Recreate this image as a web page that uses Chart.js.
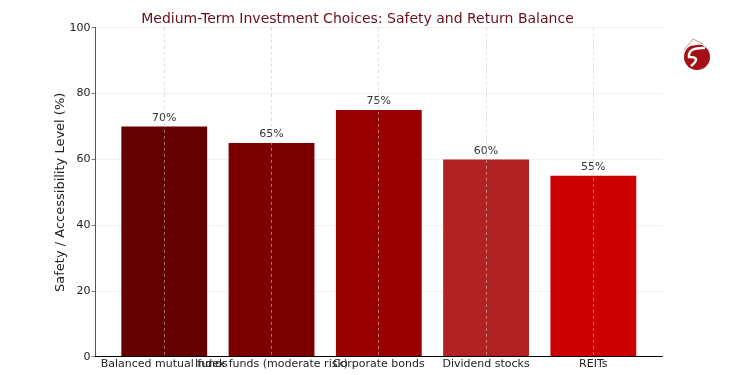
<!DOCTYPE html>
<html>
<head>
<meta charset="utf-8">
<script src="https://cdn.jsdelivr.net/npm/chart.js@4"></script>
<style>
  html, body { margin: 0; padding: 0; background: #fff; }
</style>
</head>
<body>
<canvas id="bar-chart" width="750" height="375"></canvas>
<script>
// chart data
const categories = ["Balanced mutual funds", "Index funds (moderate risk)", "Corporate bonds", "Dividend stocks", "REITs"];
const safetyLevels = [70, 65, 75, 60, 55];
const barColors = ["#640000", "#7d0000", "#990000", "#b22222", "#cc0000"];
const yTicks = [0, 20, 40, 60, 80, 100];

Chart.defaults.font.family = "'DejaVu Sans', sans-serif";
Chart.defaults.color = "#333";

// percent labels above the bars
const valueLabels = {
  id: "valueLabels",
  afterDatasetsDraw(chart) {
    const ctx = chart.ctx;
    const meta = chart.getDatasetMeta(0);
    ctx.save();
    ctx.font = "11px 'DejaVu Sans', sans-serif";
    ctx.fillStyle = "#333";
    ctx.textAlign = "center";
    ctx.textBaseline = "bottom";
    meta.data.forEach(function(bar, i) {
      ctx.fillText(safetyLevels[i] + "%", bar.x, bar.y - 3);
    });
    ctx.restore();
  }
};

// small emblem in the top right corner
const logo = {
  id: "logo",
  afterDraw(chart) {
    const ctx = chart.ctx;
    ctx.save();
    ctx.fillStyle = "#a50f15";
    ctx.beginPath();
    ctx.arc(697, 57, 13, 0, Math.PI * 2);
    ctx.fill();
    ctx.strokeStyle = "#fff";
    ctx.lineWidth = 2.5;
    ctx.beginPath();
    ctx.moveTo(705, 48);
    ctx.quadraticCurveTo(688, 47, 689, 57);
    ctx.quadraticCurveTo(702, 57, 691, 66);
    ctx.stroke();
    ctx.fillStyle = "#fff";
    ctx.beginPath();
    ctx.moveTo(684, 50);
    ctx.lineTo(693, 39);
    ctx.lineTo(703, 44);
    ctx.lineTo(690, 46);
    ctx.closePath();
    ctx.fill();
    ctx.strokeStyle = "#c98";
    ctx.lineWidth = 1;
    ctx.beginPath();
    ctx.moveTo(684, 50);
    ctx.lineTo(693, 39);
    ctx.lineTo(703, 44);
    ctx.stroke();
    ctx.restore();
  }
};

new Chart(document.getElementById("bar-chart"), {
  type: "bar",
  data: {
    datasets: [
      {
        data: safetyLevels.map(function(v, i) { return { x: i, y: v }; }),
        backgroundColor: barColors,
        borderWidth: 0,
        barPercentage: 0.8,
        categoryPercentage: 1
      }
    ]
  },
  plugins: [valueLabels, logo],
  options: {
    responsive: false,
    animation: false,
    layout: { padding: { left: 53, right: 88, top: 7, bottom: 3 } },
    plugins: {
      legend: { display: false },
      tooltip: { enabled: false },
      title: {
        display: true,
        text: "Medium-Term Investment Choices: Safety and Return Balance",
        color: "#6b0f1a",
        font: { size: 14, weight: "normal" },
        padding: { top: 4, bottom: 0 }
      }
    },
    scales: {
      x: {
        type: "linear",
        offset: false,
        min: -0.64,
        max: categories.length - 1 + 0.64,
        grid: {
          z: 1,
          offset: false,
          color: "rgba(200,200,200,0.75)",
          lineWidth: 0.8,
          tickLength: 0
        },
        border: { display: true, color: "#000", width: 1, dash: [3, 3], z: 1 },
        ticks: {
          stepSize: 1,
          includeBounds: false,
          autoSkip: false,
          maxRotation: 0,
          padding: 1,
          font: { size: 11 },
          color: "#222",
          callback: function(v) { return Number.isInteger(v) ? categories[v] : ""; }
        }
      },
      y: {
        min: 0,
        max: 100,
        afterBuildTicks: function(scale) { scale.ticks = yTicks.map(function(v) { return { value: v }; }); },
        title: {
          display: true,
          text: "Safety / Accessibility Level (%)",
          font: { size: 13 },
          color: "#222",
          padding: { top: 0, bottom: 0 }
        },
        grid: {
          color: "#eeeeee",
          lineWidth: 0.8,
          tickLength: 4,
          tickColor: "#555"
        },
        border: { display: true, color: "#555", width: 1 },
        ticks: { font: { size: 11 }, color: "#222", padding: 1 }
      }
    }
  }
});
</script>
</body>
</html>
